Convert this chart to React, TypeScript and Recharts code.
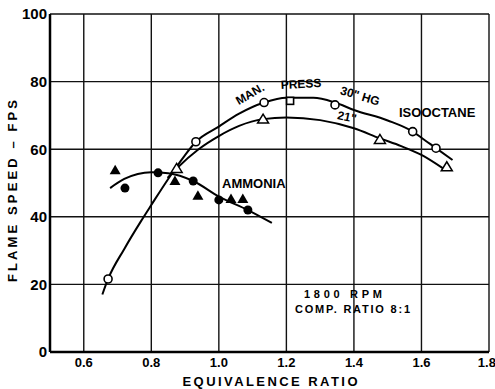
import React from 'react';
import { ComposedChart, Line, Scatter, XAxis, YAxis, CartesianGrid } from 'recharts';

// curve traces (equivalence ratio, flame speed fps)
const iso30Curve = [
  [0.655, 17], [0.672, 21.6], [0.72, 30.5], [0.77, 38.8], [0.8, 43.5], [0.85, 51.2],
  [0.895, 57.6], [0.932, 62.2], [1.0, 66.7], [1.06, 70.5], [1.134, 73.8], [1.2, 75.2],
  [1.28, 75.2], [1.344, 73.8], [1.4, 71.6], [1.5, 68.5], [1.574, 65.2], [1.6, 63.4],
  [1.643, 60.3], [1.692, 56.8],
];
const iso21Curve = [
  [0.848, 51.5], [0.875, 54.3], [0.94, 60], [1.0, 63.9], [1.06, 66.9], [1.131, 68.9],
  [1.2, 69.4], [1.3, 68.6], [1.4, 66.2], [1.477, 63.2], [1.54, 60.9], [1.6, 58.3], [1.664, 54.3],
];
const ammoniaCurve = [
  [0.678, 48.5], [0.72, 51.2], [0.8, 53.2], [0.85, 52.9], [0.924, 50.6], [1.0, 46],
  [1.086, 42], [1.157, 38.2],
];

// measured points
const iso30Points = [[0.672, 21.6], [0.932, 62.2], [1.134, 73.8], [1.344, 73.1], [1.574, 65.2], [1.643, 60.3]];
const iso30Square = [[1.211, 74.3]];
const iso21Points = [[0.875, 54.3], [1.131, 68.9], [1.477, 62.9], [1.675, 54.8]];
const ammoniaCircles = [[0.722, 48.5], [0.82, 53], [0.924, 50.6], [1.0, 45], [1.086, 42]];
const ammoniaTriangles = [[0.693, 53.8], [0.87, 50.6], [0.938, 46.2], [1.036, 45.3], [1.071, 45.3]];

const xTicks = [0.6, 0.8, 1.0, 1.2, 1.4, 1.6, 1.8];
const yTicks = [0, 20, 40, 60, 80, 100];

const toXY = (arr: number[][]) => arr.map(([x, y]) => ({ x, y }));

const font = '"Liberation Sans", Arial, sans-serif';

const OpenCircle = (p: any) => (
  <circle cx={p.cx} cy={p.cy} r={4} fill="#fff" stroke="#000" strokeWidth={1.6} />
);
const OpenSquare = (p: any) => (
  <rect x={p.cx - 3.5} y={p.cy - 3.5} width={7} height={7} fill="#fff" stroke="#000" strokeWidth={1.6} />
);
const OpenTriangle = (p: any) => (
  <polygon
    points={`${p.cx - 5.5},${p.cy + 4} ${p.cx + 5.5},${p.cy + 4} ${p.cx},${p.cy - 5}`}
    fill="#fff" stroke="#000" strokeWidth={1.5}
  />
);
const FilledCircle = (p: any) => <circle cx={p.cx} cy={p.cy} r={4.5} fill="#000" />;
const FilledTriangle = (p: any) => (
  <polygon points={`${p.cx - 5.5},${p.cy + 4} ${p.cx + 5.5},${p.cy + 4} ${p.cx},${p.cy - 5.5}`} fill="#000" />
);

export default function App() {
  const lineProps = { dataKey: 'y', stroke: '#000', strokeWidth: 2, dot: false, activeDot: false, isAnimationActive: false, type: 'monotone' as const };
  return (
    <div style={{ position: 'absolute', left: 0, top: 0, width: 495, height: 389, background: '#fff' }}>
      <ComposedChart width={495} height={389} margin={{ top: 14, right: 6, bottom: 0, left: 0 }}>
        <CartesianGrid stroke="#111" strokeWidth={1.4} />
        <XAxis
          dataKey="x" type="number" domain={[0.5, 1.8]} ticks={xTicks} allowDataOverflow
          tickFormatter={(v: number) => v.toFixed(1)} height={37} tickLine={false} tickSize={0} tickMargin={6}
          axisLine={{ stroke: '#000', strokeWidth: 2.5 }}
          tick={{ fill: '#000', fontSize: 13, fontWeight: 700, fontFamily: font }}
        />
        <YAxis
          dataKey="y" type="number" domain={[0, 100]} ticks={yTicks} allowDataOverflow
          width={50} tickLine={false} tickSize={0} tickMargin={3}
          axisLine={{ stroke: '#000', strokeWidth: 2.5 }}
          tick={{ fill: '#000', fontSize: 15, fontWeight: 700, fontFamily: font }}
        />
        <Line data={toXY(iso30Curve)} {...lineProps} />
        <Line data={toXY(iso21Curve)} {...lineProps} />
        <Line data={toXY(ammoniaCurve)} {...lineProps} />
        <Scatter data={toXY(iso30Points)} shape={OpenCircle} isAnimationActive={false} />
        <Scatter data={toXY(iso30Square)} shape={OpenSquare} isAnimationActive={false} />
        <Scatter data={toXY(iso21Points)} shape={OpenTriangle} isAnimationActive={false} />
        <Scatter data={toXY(ammoniaCircles)} shape={FilledCircle} isAnimationActive={false} />
        <Scatter data={toXY(ammoniaTriangles)} shape={FilledTriangle} isAnimationActive={false} />
      </ComposedChart>
      <svg width={495} height={389} style={{ position: 'absolute', left: 0, top: 0, pointerEvents: 'none' }}
        fontFamily={font} fontWeight={700} fill="#000">
        <text x={222} y={188} fontSize={13}>AMMONIA</text>
        <text x={399} y={117} fontSize={13}>ISOOCTANE</text>
        <text x={304} y={298} fontSize={11} textLength={78} lengthAdjust="spacing">1800 RPM</text>
        <text x={295} y={313} fontSize={11} textLength={115} lengthAdjust="spacing">COMP. RATIO 8:1</text>
        <text x={250} y={98} fontSize={12} textAnchor="middle" transform="rotate(-30 250 94)">MAN.</text>
        <text x={301} y={88} fontSize={12} textAnchor="middle" transform="rotate(-3 301 84)">PRESS</text>
        <text x={360} y={100} fontSize={12} textAnchor="middle" transform="rotate(17 360 96)">30" HG</text>
        <text x={347} y={121} fontSize={12} textAnchor="middle" transform="rotate(12 347 117)">21"</text>
        <text x={270} y={386} fontSize={13} textAnchor="middle" textLength={175} lengthAdjust="spacing">EQUIVALENCE RATIO</text>
        <text x={0} y={0} fontSize={13} textAnchor="middle" textLength={182} lengthAdjust="spacing"
          transform="translate(17 191) rotate(-90)">FLAME SPEED – FPS</text>
      </svg>
    </div>
  );
}
